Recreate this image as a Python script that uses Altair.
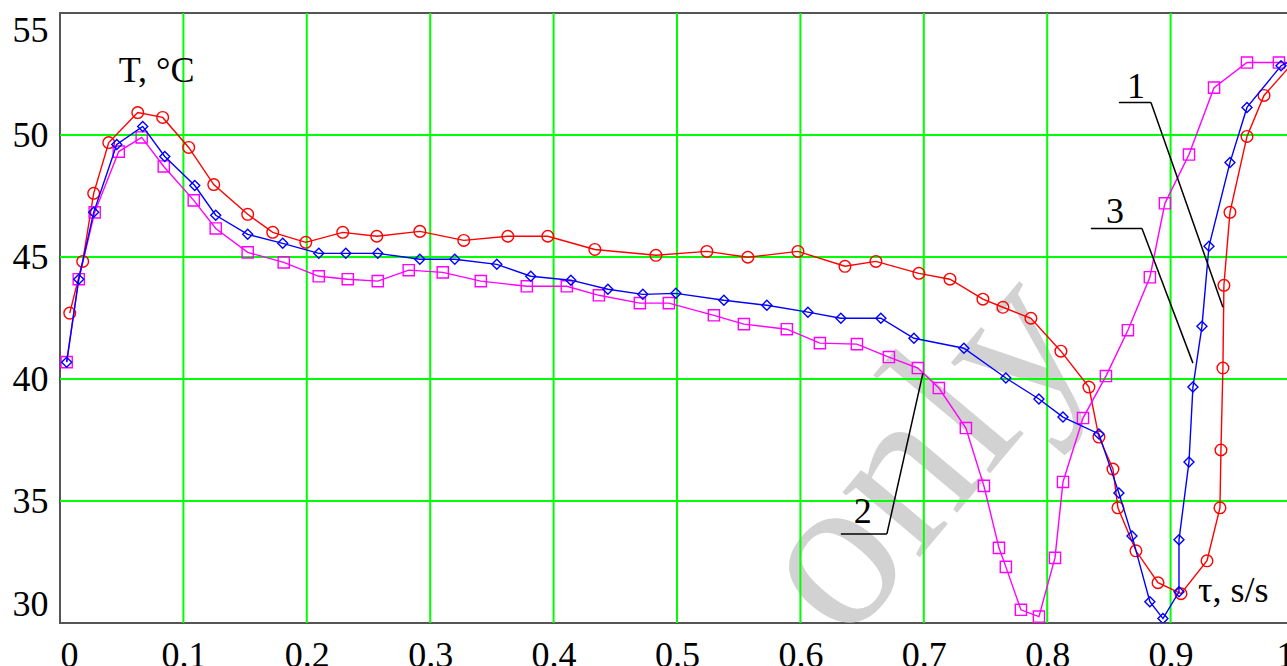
import altair as alt
import pandas as pd

# ---- data ----
# Curve 1 (red, circles)
x1 = [0.0079, 0.0184, 0.0273, 0.0395, 0.0630, 0.0832, 0.1043, 0.1246, 0.1521, 0.1724,
      0.1992, 0.2291, 0.2567, 0.2916, 0.3272, 0.3629, 0.3953, 0.4334, 0.4829, 0.5242,
      0.5574, 0.5980, 0.6361, 0.6612, 0.6960, 0.7212, 0.7479, 0.7641, 0.7868, 0.8111,
      0.8338, 0.8419, 0.8533, 0.8573, 0.8719, 0.8898, 0.9084, 0.9295, 0.9400, 0.9408,
      0.9424, 0.9432, 0.9481, 0.9619, 0.9757, 1.0]
y1 = [42.70, 44.82, 47.61, 49.69, 50.92, 50.72, 49.49, 47.97, 46.75, 46.01,
      45.60, 46.01, 45.85, 46.05, 45.68, 45.85, 45.85, 45.31, 45.07, 45.23,
      44.99, 45.23, 44.62, 44.82, 44.33, 44.09, 43.27, 42.94, 42.49, 41.14,
      39.67, 37.62, 36.31, 34.72, 32.96, 31.65, 31.20, 32.55, 34.72, 37.09,
      40.45, 43.84, 46.83, 49.94, 51.62, 53.01]

# Curve 2 (magenta, squares)
x2 = [0.0054, 0.0152, 0.0281, 0.0476, 0.0662, 0.0841, 0.1084, 0.1262, 0.1521, 0.1813,
      0.2097, 0.2332, 0.2575, 0.2826, 0.3102, 0.3410, 0.3783, 0.4107, 0.4367, 0.4699,
      0.4934, 0.5299, 0.5542, 0.5890, 0.6158, 0.6458, 0.6717, 0.6952, 0.7122, 0.7341,
      0.7487, 0.7609, 0.7665, 0.7787, 0.7933, 0.8063, 0.8128, 0.8290, 0.8476, 0.8654,
      0.8832, 0.8954, 0.9149, 0.9352, 0.9619, 0.9878, 1.0]
y2 = [40.69, 44.09, 46.83, 49.32, 49.90, 48.71, 47.32, 46.17, 45.19, 44.78,
      44.21, 44.09, 44.01, 44.46, 44.37, 44.01, 43.80, 43.80, 43.43, 43.11,
      43.11, 42.61, 42.25, 42.04, 41.47, 41.43, 40.90, 40.45, 39.63, 37.99,
      35.62, 33.08, 32.30, 30.54, 30.26, 32.67, 35.78, 38.40, 40.12, 42.00,
      44.17, 47.20, 49.20, 51.94, 52.97, 52.97, 52.97]

# Curve 3 (blue, diamonds)
x3 = [0.0054, 0.0152, 0.0273, 0.0460, 0.0670, 0.0849, 0.1092, 0.1262, 0.1521, 0.1805,
      0.2097, 0.2316, 0.2575, 0.2916, 0.3199, 0.3540, 0.3815, 0.4140, 0.4440, 0.4723,
      0.4991, 0.5380, 0.5728, 0.6061, 0.6328, 0.6652, 0.6920, 0.7325, 0.7665, 0.7933,
      0.8128, 0.8419, 0.8581, 0.8687, 0.8832, 0.8938, 0.9068, 0.9068, 0.9149, 0.9181,
      0.9254, 0.9311, 0.9481, 0.9619, 0.9895, 1.0]
y3 = [40.69, 44.09, 46.83, 49.61, 50.35, 49.12, 47.93, 46.71, 45.93, 45.56,
      45.15, 45.15, 45.15, 44.91, 44.91, 44.70, 44.21, 44.05, 43.68, 43.47,
      43.51, 43.23, 43.02, 42.74, 42.49, 42.49, 41.67, 41.26, 40.04, 39.18,
      38.44, 37.75, 35.33, 33.57, 30.87, 30.18, 31.28, 33.41, 36.60, 39.67,
      42.16, 45.44, 48.87, 51.13, 52.84, 53.10]

x_ticks = [0, 0.1, 0.2, 0.3, 0.4, 0.5, 0.6, 0.7, 0.8, 0.9, 1]
y_ticks = [30, 35, 40, 45, 50, 55]
x_grid = [0.1, 0.2, 0.3, 0.4, 0.5, 0.6, 0.7, 0.8, 0.9]
y_grid = [35, 40, 45, 50]

# curve numbers and their leader lines (data units)
num_text = ["1", "3", "2"]
num_x = [0.8719, 0.8549, 0.6506]
num_y = [51.53, 46.38, 34.10]
lead_x = [0.8581, 0.8841, 0.8354, 0.8768, 0.6328, 0.6701]
lead_y = [51.33, 51.33, 46.17, 46.17, 33.65, 33.65]
lead_x2 = [0.8841, 0.9424, 0.8768, 0.9181, 0.6701, 0.6993]
lead_y2 = [51.33, 42.94, 46.17, 40.65, 33.65, 40.24]

# axis captions inside the plot
cap_text = ["T, °C", "τ, s/s"]
cap_x = [0.0476, 0.9222]
cap_y = [52.19, 30.87]

# watermark
wm_text = ["only"]
wm_x = [0.6977]
wm_y = [36.97]

FONT = "Liberation Serif"

xs = alt.Scale(domain=[0, 1], nice=False, zero=False)
ys = alt.Scale(domain=[30, 55], nice=False, zero=False)
xaxis = alt.Axis(values=x_ticks, format="~g", title=None, grid=False, domain=False,
                 ticks=False, labelFont=FONT, labelFontSize=36, labelColor="black",
                 labelPadding=15, labelFlush=True, labelAngle=0)
yaxis = alt.Axis(values=y_ticks, format="d", title=None, grid=False, domain=False,
                 ticks=False, labelFont=FONT, labelFontSize=36, labelColor="black",
                 labelPadding=12, labelFlush=True)


def X(f):
    return alt.X(f, type="quantitative", scale=xs, axis=xaxis)


def Y(f):
    return alt.Y(f, type="quantitative", scale=ys, axis=yaxis)


wm = alt.Chart(pd.DataFrame({"x": wm_x, "y": wm_y, "t": wm_text})).mark_text(
    font=FONT, fontSize=220, color="#d2d2d2", angle=310, align="center", baseline="middle"
).encode(x=X("x"), y=Y("y"), text="t:N")

gridx = alt.Chart(pd.DataFrame({"gx": x_grid})).mark_rule(
    color="#00FF00", strokeWidth=2).encode(x=X("gx"))
gridy = alt.Chart(pd.DataFrame({"gy": y_grid})).mark_rule(
    color="#00FF00", strokeWidth=2).encode(y=Y("gy"))


def series(xv, yv, color, shape, size):
    df = pd.DataFrame({"x": xv, "y": yv, "i": list(range(len(xv)))})
    base = alt.Chart(df).encode(x=X("x"), y=Y("y"), order="i:Q")
    line = base.mark_line(color=color, strokeWidth=1.4, clip=True)
    pts = base.mark_point(shape=shape, size=size, filled=False, color=color,
                          strokeWidth=1.4, opacity=1, clip=True)
    return line + pts


s1 = series(x1, y1, "#FF0000", "circle", 135)
s2 = series(x2, y2, "#FF00FF", "square", 125)
s3 = series(x3, y3, "#0000FF", "diamond", 100)

leaders = alt.Chart(pd.DataFrame({"x": lead_x, "y": lead_y, "x2": lead_x2, "y2": lead_y2})).mark_rule(
    color="black", strokeWidth=1.5).encode(x=X("x"), y=Y("y"), x2="x2", y2="y2")

nums = alt.Chart(pd.DataFrame({"x": num_x, "y": num_y, "t": num_text})).mark_text(
    font=FONT, fontSize=36, color="black", align="center", baseline="alphabetic"
).encode(x=X("x"), y=Y("y"), text="t:N")

caps = alt.Chart(pd.DataFrame({"x": cap_x, "y": cap_y, "t": cap_text})).mark_text(
    font=FONT, fontSize=36, color="black", align="left", baseline="alphabetic"
).encode(x=X("x"), y=Y("y"), text="t:N")

chart = alt.layer(wm, gridx, gridy, s1, s2, s3, leaders, nums, caps).properties(
    width=1234, height=610,
    autosize=alt.AutoSizeParams(type="none"),
    padding={"left": 60, "top": 13, "right": -7, "bottom": 43},
    background="white",
).configure_view(stroke="#555555", strokeWidth=2)

chart.save("out.html", embed_options={"renderer": "svg", "actions": False})
